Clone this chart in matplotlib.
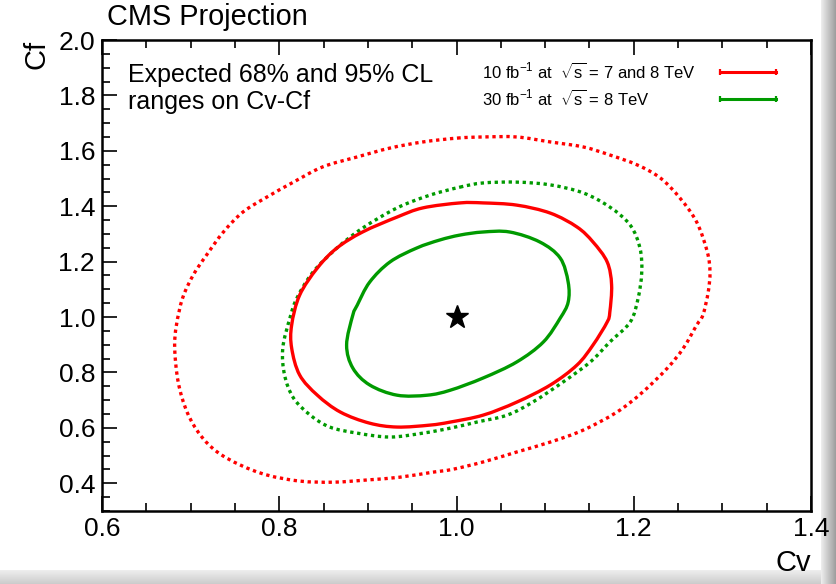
import numpy as np
import matplotlib
matplotlib.use('Agg')
import matplotlib.pyplot as plt
from matplotlib.ticker import MultipleLocator, FormatStrFormatter
from matplotlib.lines import Line2D
from matplotlib.path import Path
from matplotlib.patches import PathPatch

plt.rcParams['font.family'] = ['Liberation Sans', 'DejaVu Sans']
plt.rcParams['mathtext.fontset'] = 'custom'
plt.rcParams['mathtext.rm'] = 'Liberation Sans'
plt.rcParams['mathtext.it'] = 'Liberation Sans:italic'
plt.rcParams['mathtext.bf'] = 'Liberation Sans:bold'

# ---- data ----
red95_cv = [1.001, 1.030, 1.068, 1.106, 1.143, 1.173, 1.204, 1.230, 1.252, 1.271, 1.283, 1.286, 1.284, 1.278, 1.271,
            1.256, 1.238, 1.210, 1.181, 1.143, 1.106, 1.068, 1.030, 0.995, 0.973, 0.936, 0.899, 0.861, 0.823, 0.786,
            0.756, 0.730, 0.711, 0.696, 0.686, 0.682, 0.684, 0.691, 0.703, 0.718, 0.737, 0.759, 0.786, 0.816, 0.849,
            0.888, 0.925, 0.962]
red95_cf = [1.646, 1.650, 1.650, 1.632, 1.614, 1.585, 1.549, 1.502, 1.430, 1.343, 1.235, 1.162, 1.090, 1.007, 0.971,
            0.888, 0.816, 0.729, 0.657, 0.592, 0.549, 0.513, 0.477, 0.450, 0.440, 0.422, 0.412, 0.404, 0.408, 0.430,
            0.466, 0.513, 0.574, 0.657, 0.765, 0.888, 0.971, 1.069, 1.152, 1.224, 1.307, 1.379, 1.433, 1.487, 1.542,
            1.578, 1.610, 1.632]

green95_cv = [1.004, 1.030, 1.068, 1.106, 1.143, 1.173, 1.196, 1.207, 1.209, 1.205, 1.196, 1.173, 1.151, 1.120, 1.086,
              1.057, 1.023, 0.993, 0.962, 0.925, 0.888, 0.857, 0.835, 0.816, 0.806, 0.804, 0.812, 0.820, 0.838, 0.865,
              0.894, 0.933, 0.970]
green95_cf = [1.469, 1.484, 1.487, 1.477, 1.448, 1.397, 1.332, 1.249, 1.162, 1.069, 0.982, 0.910, 0.838, 0.765, 0.693,
              0.646, 0.621, 0.599, 0.581, 0.567, 0.581, 0.603, 0.646, 0.708, 0.791, 0.888, 0.996, 1.069, 1.162, 1.249,
              1.321, 1.394, 1.440]

red68_cv = [1.004, 1.030, 1.068, 1.106, 1.136, 1.154, 1.170, 1.175, 1.173, 1.170, 1.154, 1.136, 1.106, 1.068, 1.030,
            0.993, 0.970, 0.933, 0.902, 0.869, 0.843, 0.823, 0.814, 0.814, 0.823, 0.843, 0.865, 0.894, 0.933, 0.962]
red68_cf = [1.412, 1.412, 1.404, 1.375, 1.325, 1.271, 1.199, 1.116, 1.018, 0.982, 0.899, 0.827, 0.755, 0.693, 0.646,
            0.621, 0.610, 0.603, 0.617, 0.657, 0.718, 0.791, 0.888, 0.971, 1.079, 1.177, 1.249, 1.307, 1.361, 1.394]

green68_cv = [1.004, 1.030, 1.060, 1.094, 1.117, 1.126, 1.126, 1.117, 1.098, 1.068, 1.030, 0.993, 0.967, 0.933, 0.902,
              0.883, 0.876, 0.883, 0.888, 0.902, 0.925, 0.955, 0.981]
green68_cf = [1.296, 1.307, 1.307, 1.271, 1.213, 1.126, 1.054, 0.996, 0.910, 0.838, 0.780, 0.736, 0.718, 0.718, 0.755,
              0.816, 0.899, 1.007, 1.043, 1.126, 1.199, 1.249, 1.278]

best_cv = [1.0]
best_cf = [1.0]

legend_labels = [r'10 fb$^{\mathregular{-1}}$ at  $\sqrt{\mathregular{s}}$ = 7 and 8 TeV',
                 r'30 fb$^{\mathregular{-1}}$ at  $\sqrt{\mathregular{s}}$ = 8 TeV']

RED = '#ff0000'
GREEN = '#009a00'


def smooth_closed_path(xs, ys):
    """Closed curve through the given points, drawn as cubic Bezier segments (Catmull-Rom)."""
    p = np.column_stack([xs, ys])
    n = len(p)
    verts = [p[0]]
    codes = [Path.MOVETO]
    for i in range(n):
        p0, p1, p2, p3 = p[i - 1], p[i], p[(i + 1) % n], p[(i + 2) % n]
        verts += [p1 + (p2 - p0) / 6.0, p2 - (p3 - p1) / 6.0, p2]
        codes += [Path.CURVE4] * 3
    return Path(verts, codes)


fig = plt.figure(figsize=(8.36, 5.84), dpi=100)
fig.patch.set_facecolor('white')

# screenshot window shading (right and bottom edges)
shade_r = fig.add_axes([821 / 836, 0, 15 / 836, 1], zorder=-5)
shade_r.imshow(np.linspace(0.93, 0.62, 32)[None, :], cmap='gray', vmin=0, vmax=1, aspect='auto',
               extent=[0, 1, 0, 1])
shade_r.axis('off')
shade_b = fig.add_axes([0, 0, 821 / 836, 14 / 584], zorder=-5)
shade_b.imshow(np.linspace(0.80, 0.93, 16)[:, None], cmap='gray', vmin=0, vmax=1, aspect='auto',
               extent=[0, 1, 0, 1], origin='lower')
shade_b.axis('off')

ax = fig.add_axes([102 / 836, 1 - 511 / 584, 709 / 836, 471 / 584])

for xs, ys, col, ls in [(red95_cv, red95_cf, RED, (0, (1.0, 1.1))),
                        (green95_cv, green95_cf, GREEN, (0, (1.0, 1.1))),
                        (red68_cv, red68_cf, RED, '-'),
                        (green68_cv, green68_cf, GREEN, '-')]:
    ax.add_patch(PathPatch(smooth_closed_path(xs, ys), fill=False, edgecolor=col, lw=2.4, ls=ls))

ax.plot(best_cv, best_cf, marker='*', color='black', markersize=17, ls='none')

ax.set_xlim(0.6, 1.4)
ax.set_ylim(0.3, 2.0)
ax.xaxis.set_major_locator(MultipleLocator(0.2))
ax.xaxis.set_minor_locator(MultipleLocator(0.05))
ax.yaxis.set_major_locator(MultipleLocator(0.2))
ax.yaxis.set_minor_locator(MultipleLocator(0.05))
ax.xaxis.set_major_formatter(FormatStrFormatter('%.1f'))
ax.yaxis.set_major_formatter(FormatStrFormatter('%.1f'))
ax.tick_params(which='both', direction='in', top=True, right=False, width=1.2, labelsize=19)
ax.tick_params(which='major', length=11)
ax.tick_params(which='minor', length=5.5)
ax.tick_params(axis='x', which='both', pad=4)
ax.tick_params(axis='y', which='both', pad=5)
for s in ax.spines.values():
    s.set_linewidth(1.8)

ax.set_xlabel('Cv', fontsize=21, loc='right', labelpad=6)
ax.set_ylabel('Cf', fontsize=21, loc='top', labelpad=6)

fig.text(107 / 836, 1 - 17 / 584, 'CMS Projection', fontsize=20.8, ha='left', va='center')

ax.text(0.037, 0.925, 'Expected 68% and 95% CL', transform=ax.transAxes, fontsize=18, ha='left', va='center')
ax.text(0.037, 0.868, 'ranges on Cv-Cf', transform=ax.transAxes, fontsize=18, ha='left', va='center')

for i, (lab, col) in enumerate(zip(legend_labels, [RED, GREEN])):
    yy = 0.932 - i * 0.057
    ax.text(0.536, yy, lab, transform=ax.transAxes, fontsize=12, ha='left', va='center')
    ax.add_line(Line2D([0.872, 0.951], [yy, yy], transform=ax.transAxes, color=col, lw=2.2,
                       marker='|', markersize=5, markevery=[0, 1], markeredgewidth=1.6))

fig.savefig('out.png', dpi=100)
